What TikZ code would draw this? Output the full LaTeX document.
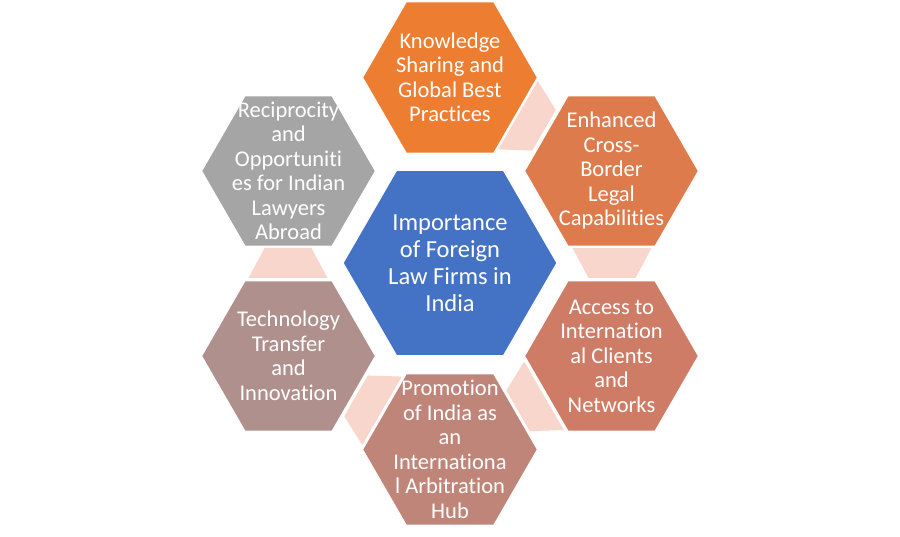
\documentclass[tikz,border=0pt]{standalone}
\usepackage{fontspec}
\setmainfont[Ligatures={NoCommon}]{Carlito}
\definecolor{cTop}{RGB}{237,125,49}
\definecolor{cUR}{RGB}{222,123,77}
\definecolor{cLR}{RGB}{206,124,102}
\definecolor{cBot}{RGB}{191,133,121}
\definecolor{cLL}{RGB}{175,144,141}
\definecolor{cUL}{RGB}{165,165,165}
\definecolor{cMid}{RGB}{68,114,196}
\definecolor{cConn}{RGB}{248,214,204}
\newcommand\hexshape[3]{\filldraw[fill=#3,draw=white,line width=1.2pt] (#1) ++(0:#2) -- ++(120:#2) -- ++(180:#2) -- ++(240:#2) -- ++(300:#2) -- ++(0:#2) -- cycle;}
\newcommand\connshape[1]{\begin{scope}[shift={(450,273)},rotate=#1]\fill[cConn] (122.5,15) -- (201.5,15) -- (185.5,-15) -- (138.5,-15) -- cycle;\end{scope}}
\tikzset{
  outtxt/.style={text=white,align=center,font=\fontsize{22.5}{24.5}\selectfont,inner sep=0pt},
  midtxt/.style={text=white,align=center,font=\fontsize{24.5}{27}\selectfont,inner sep=0pt}
}
\begin{document}
\begin{tikzpicture}[x=1pt,y=1pt]
\useasboundingbox (0,0) rectangle (900,536);
\coordinate (C) at (450,273);
\coordinate (pT) at (450,458.5);
\coordinate (pUR) at (611.5,365);
\coordinate (pLR) at (611.5,180);
\coordinate (pB) at (450,86.5);
\coordinate (pLL) at (288.5,180);
\coordinate (pUL) at (288.5,365);
% connectors
\connshape{0}
\connshape{60}
\connshape{-60}
\connshape{-120}
\connshape{180}
% hexagons
\hexshape{C}{107}{cMid}
\hexshape{pT}{87.5}{cTop}
\hexshape{pUR}{87}{cUR}
\hexshape{pLR}{87}{cLR}
\hexshape{pB}{87.5}{cBot}
\hexshape{pLL}{87}{cLL}
\hexshape{pUL}{87}{cUL}
% texts
\node[midtxt] (tMid) at (C) {Importance\\of Foreign\\Law Firms in\\India};
\node[outtxt] (tT) at (pT) {Knowledge\\Sharing and\\Global Best\\Practices};
\node[outtxt] (tUR) at (pUR) {Enhanced\\Cross-\\Border\\Legal\\Capabilities};
\node[outtxt] (tLR) at (pLR) {Access to\\Internation\\al Clients\\and\\Networks};
\node[outtxt] (tB) at (pB) {Promotion\\of India as\\an\\Internationa\\l Arbitration\\Hub};
\node[outtxt] (tLL) at (pLL) {Technology\\Transfer\\and\\Innovation};
\node[outtxt] (tUL) at (pUL) {Reciprocity\\and\\Opportuniti\\es for Indian\\Lawyers\\Abroad};
\end{tikzpicture}
\end{document}
